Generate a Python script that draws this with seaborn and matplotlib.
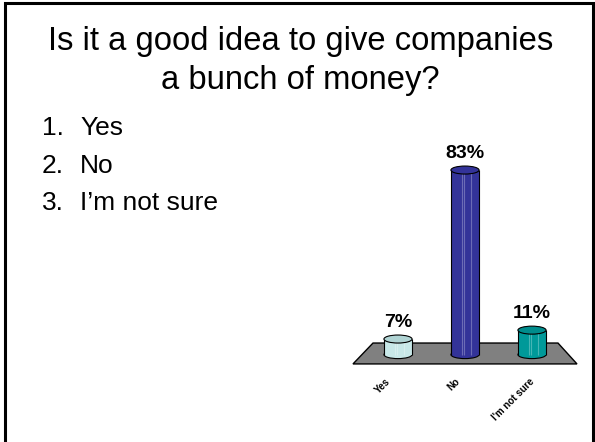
import matplotlib
matplotlib.use("Agg")
import matplotlib.pyplot as plt
from matplotlib.patches import Ellipse, Polygon, Rectangle
from matplotlib.transforms import ScaledTranslation
import seaborn as sns

# ---- data ----
categories = ["Yes", "No", "I'm not sure"]
values = [7, 83, 11]
body_colors = ["#C8E8E8", "#333399", "#009999"]
top_colors = ["#B0D4D4", "#333399", "#008C8C"]
title_lines = ["Is it a good idea to give companies", "a bunch of money?"]
list_numbers = ["1.", "2.", "3."]
list_items = ["Yes", "No", "I\u2019m not sure"]

sns.set_style("white")
plt.rcParams["font.family"] = ["Liberation Sans", "DejaVu Sans"]
plt.rcParams["text.color"] = "black"
plt.rcParams["xtick.color"] = "black"
plt.rcParams["xtick.labelcolor"] = "black"

fig = plt.figure(figsize=(5.95, 4.42), dpi=100)
fig.patch.set_facecolor("white")

# slide frame
fig.add_artist(Rectangle((5.0 / 595, -0.02), (593 - 5.0) / 595, 1.02 - 3 / 442,
                         transform=fig.transFigure, fill=False, edgecolor="black",
                         linewidth=2.2))

# title
fig.text(0.5055, 1 - 50 / 442, title_lines[0], ha="center", va="baseline",
         fontsize=23.6, color="black")
fig.text(0.5055, 1 - 89 / 442, title_lines[1], ha="center", va="baseline",
         fontsize=23.6, color="black")

# numbered list
baselines = [135, 173, 210]
for num, item, b in zip(list_numbers, list_items, baselines):
    fig.text(42 / 595, 1 - b / 442, num, ha="left", va="baseline", fontsize=19,
             color="black")
    fig.text(80 / 595, 1 - b / 442, item, ha="left", va="baseline", fontsize=19,
             color="black")

# chart axes
ax = fig.add_axes([351 / 595, 0.1742, 227 / 595, 0.509])
bw = 0.42
eh = 3.6

sns.barplot(x=categories, y=values, hue=categories, order=categories,
            hue_order=categories, palette=body_colors, width=bw, legend=False,
            edgecolor="none", linewidth=0, saturation=1, zorder=2, ax=ax)

# floor
floor = Polygon([(-0.373, 5.2), (2.388, 5.2), (2.672, -4.2), (-0.672, -4.2)],
                closed=True, facecolor="#808080", edgecolor="black", linewidth=1.0,
                zorder=0.5)
ax.add_patch(floor)

for i, (v, bc, tc) in enumerate(zip(values, body_colors, top_colors)):
    # bottom of cylinder
    ax.add_patch(Ellipse((i, 0), bw, eh, facecolor=bc, edgecolor="black",
                         linewidth=0.8, zorder=1))
    # side edges
    ax.vlines([i - bw / 2, i + bw / 2], 0, v, colors="black", linewidth=0.8, zorder=3)
    # light stripes for shading
    ax.vlines([i - bw * 0.12, i - bw * 0.02, i + bw * 0.22], 0, v,
              colors="white", alpha=0.28, linewidth=0.8, zorder=2.5)
    # top of cylinder
    ax.add_patch(Ellipse((i, v), bw, eh, facecolor=tc, edgecolor="black",
                         linewidth=0.8, zorder=4))
    ax.annotate(f"{v}%", (i, v), xytext=(0, 9), textcoords="offset points",
                ha="center", va="baseline", fontsize=14, fontweight="bold",
                color="black")

ax.set_xlim(-0.7015, 2.687)
ax.set_ylim(-4.68, 96.5)
ax.set_xticks(range(len(categories)))
ax.set_xticklabels(categories, rotation=45, ha="right", va="top",
                   fontsize=7, fontweight="bold", color="black")
ax.tick_params(axis="x", length=0, pad=8.0)
label_shifts_px = [-6, -3, 4]
for lab, dx in zip(ax.get_xticklabels(), label_shifts_px):
    lab.set_transform(lab.get_transform() + ScaledTranslation(dx / 100, 0, fig.dpi_scale_trans))
ax.set_yticks([])
ax.set_xlabel("")
ax.set_ylabel("")
for s in ax.spines.values():
    s.set_visible(False)
ax.patch.set_alpha(0)

fig.savefig("out.png", dpi=100)
